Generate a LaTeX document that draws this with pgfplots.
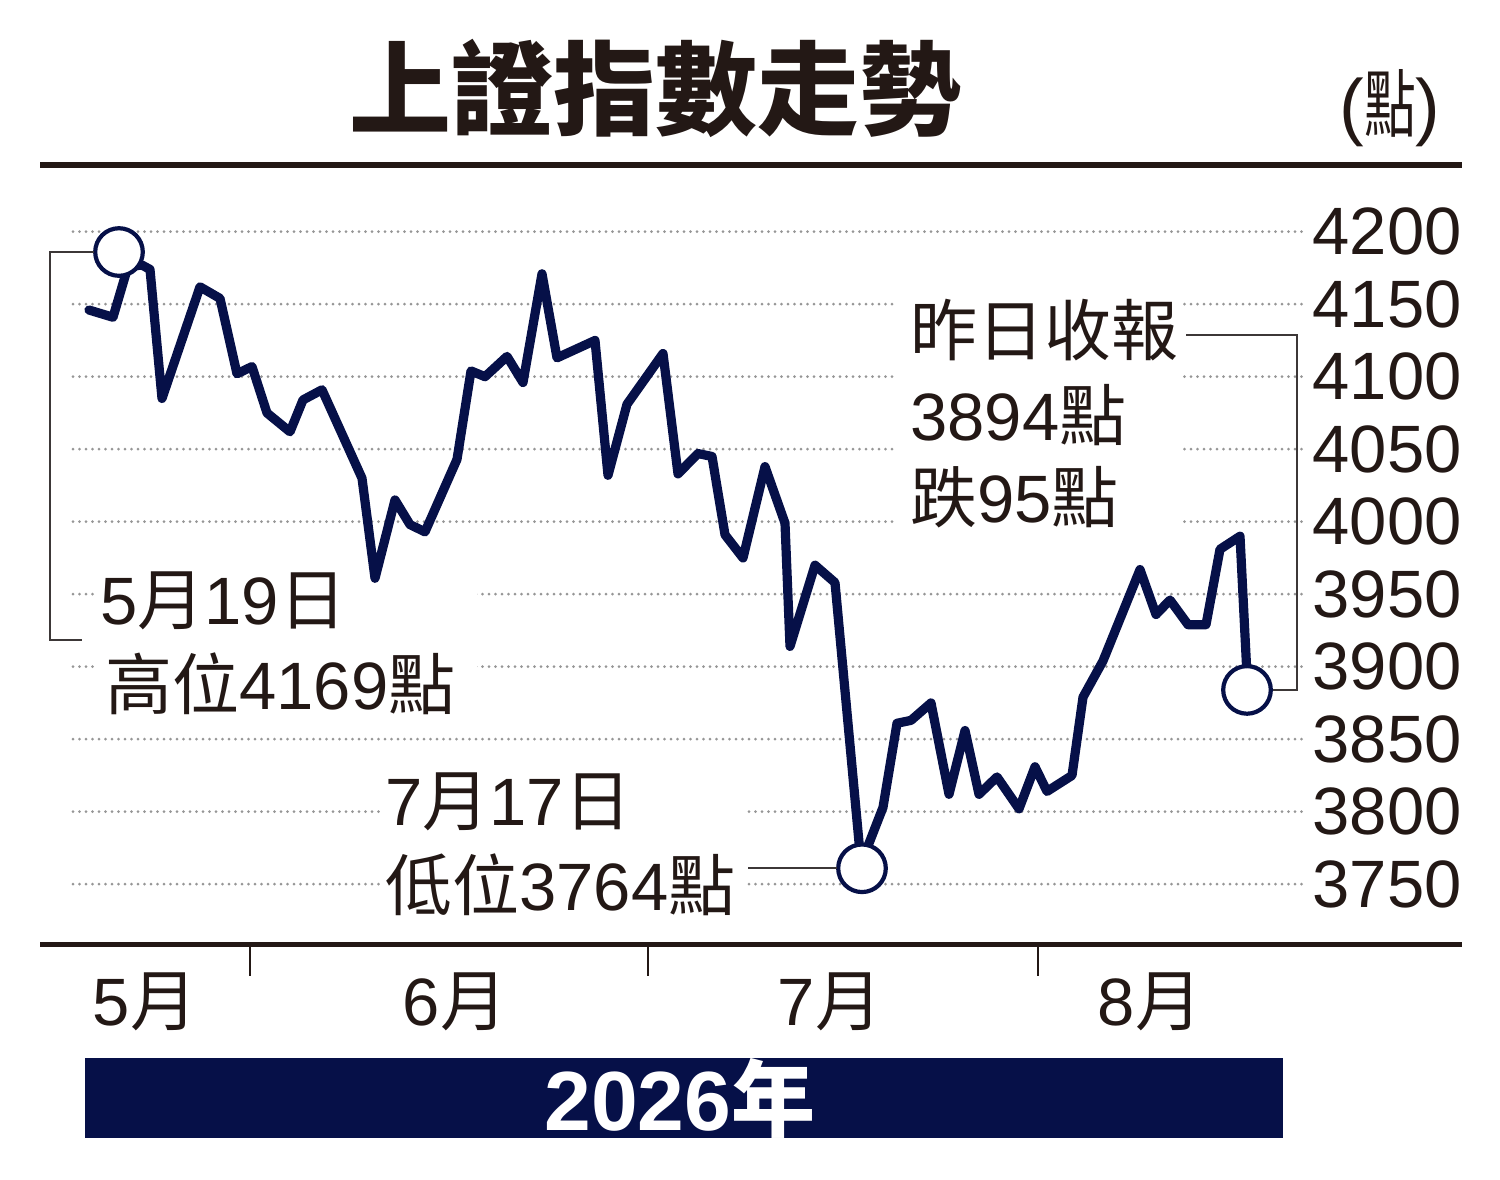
\documentclass[border=0pt]{standalone}
\usepackage{pgfplots}
\pgfplotsset{compat=1.18}
\usepackage{fontspec}
\setmainfont{Liberation Sans}
\newfontfamily\cjk{Noto Sans CJK TC}
\definecolor{navy}{RGB}{6,16,72}
\definecolor{txt}{RGB}{35,24,21}
\definecolor{gridc}{RGB}{150,150,150}
\definecolor{conn}{RGB}{60,55,55}
\newcommand\fs[1]{\fontsize{#1}{#1}\selectfont}
\begin{document}
\begin{tikzpicture}[x=0.5pt,y=-0.5pt]
\path (0,0) rectangle (1500,1179);
\begin{axis}[
 at={(36.5pt,-442.1pt)}, anchor=south west,
 scale only axis, width=616pt, height=326.25pt,
 xmin=73, xmax=1305, ymin=3750, ymax=4200,
 clip=false,
 axis line style={draw=none},
 xtick=\empty,
 ytick={3750,3800,...,4200},
 yticklabels={3750,3800,3850,3900,3950,4000,4050,4100,4150,4200},
 yticklabel pos=right,
 major tick length=0pt,
 yticklabel style={anchor=east, inner sep=0pt, xshift=78.5pt, font=\fs{33.5pt}, text=txt},
 ymajorgrids,
 major grid style={gridc, line width=1.5pt, line cap=round, dash pattern=on 0pt off 3.25pt},
]
\fill[white] (axis cs:95,3970.1) rectangle (axis cs:477,3863.2);
\fill[white] (axis cs:380,3828.8) rectangle (axis cs:745,3721.9);
\fill[white] (axis cs:897,4159.8) rectangle (axis cs:1183,3990.8);
\addplot[navy, line width=4.6pt, line join=round, line cap=round] coordinates {
(89,4146) (113,4141) (128,4176) (142,4177) (150,4174) (162,4085) (200,4162) (220,4154)
(237,4102) (252,4107) (267,4075) (290,4062) (303,4084) (322,4091) (362,4030) (375,3961)
(395,4015) (410,3998) (425,3993) (457,4043) (471,4104) (485,4100) (507,4114) (523,4096)
(542,4171) (557,4113) (595,4125) (608,4032) (627,4081) (663,4116) (678,4033) (698,4047)
(712,4045) (725,3991) (743,3975) (765,4038) (785,3999) (790,3914) (815,3970) (835,3958)
(861,3764) (883,3803) (897,3861) (911,3863) (931,3875) (949,3812) (965,3856) (979,3812)
(997,3824) (1019,3802) (1035,3831) (1047,3814) (1072,3825) (1083,3879) (1103,3904)
(1140,3967) (1156,3936) (1170,3946) (1188,3929) (1206,3929) (1220,3981) (1240,3990)
(1247,3894)};
\addplot[only marks, mark=*, mark size=11.9pt, mark options={fill=white, draw=navy, line width=2.1pt}]
 coordinates {(119,4186) (862,3761) (1247,3884)};
\end{axis}
% rules
\draw[txt, line width=3pt] (40,165) -- (1462,165);
\draw[txt, line width=2.5pt] (40,944) -- (1462,944);
\foreach \xx in {250,648,1038} \draw[txt, line width=0.9pt] (\xx,944) -- (\xx,976);
% connectors
\draw[conn, line width=1pt] (94,252) -- (50,252) -- (50,640) -- (82,640);
\draw[conn, line width=1pt] (1186,335) -- (1297,335) -- (1297,690) -- (1273,690);
\draw[conn, line width=1pt] (748,868) -- (837,868);
% title
\node[inner sep=0, text=txt, font=\cjk\bfseries\fs{51pt}] at (655,88) {上證指數走勢};
\node[inner sep=0, text=txt, font=\fs{37pt}] at (1390,108) {(\scalebox{0.7}[1]{\cjk 點})};
% annotations
\begin{scope}[every node/.style={inner sep=0pt, anchor=west, text=txt, font=\fs{33.5pt}}]
\node at (910,330) {\cjk 昨日收報};
\node at (910,415) {3894{\cjk 點}};
\node at (910,497) {{\cjk 跌}95{\cjk 點}};
\node at (100,601) {5{\cjk 月}19{\cjk 日}};
\node at (105,684) {{\cjk 高位}4169{\cjk 點}};
\node at (385,802) {7{\cjk 月}17{\cjk 日}};
\node at (385,885) {{\cjk 低位}3764{\cjk 點}};
\end{scope}
% months
\begin{scope}[every node/.style={inner sep=0pt, text=txt, font=\fs{33.5pt}}]
\node at (145,1002) {5{\cjk 月}};
\node at (455,1002) {6{\cjk 月}};
\node at (830,1002) {7{\cjk 月}};
\node at (1150,1002) {8{\cjk 月}};
\end{scope}
% year bar
\fill[navy] (85,1058) rectangle (1283,1138);
\node[inner sep=0pt, text=white, font=\bfseries\fs{42pt}] at (680,1098) {2026{\cjk\bfseries 年}};
\end{tikzpicture}
\end{document}
